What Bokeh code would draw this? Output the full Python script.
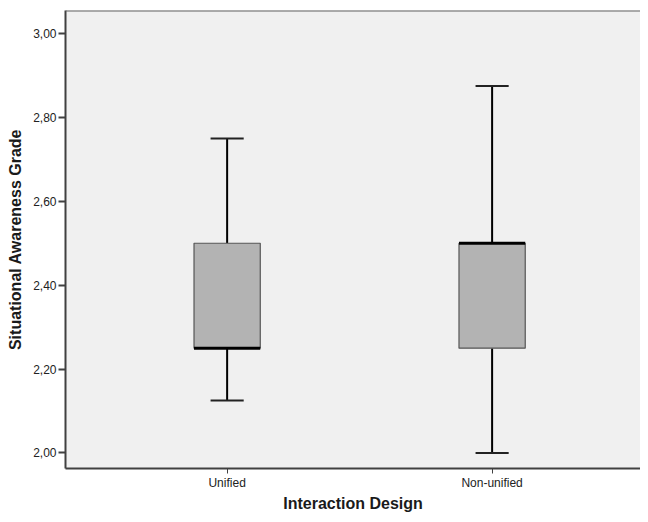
from bokeh.plotting import figure
from bokeh.models import FixedTicker, Range1d, Span
from bokeh.embed import file_html
from bokeh.resources import INLINE

categories = ["Unified", "Non-unified"]
lower = [2.125, 2.00]
q1 = [2.25, 2.25]
median = [2.25, 2.50]
q3 = [2.50, 2.50]
upper = [2.75, 2.875]
y_ticks = [2.0, 2.2, 2.4, 2.6, 2.8, 3.0]
y_tick_labels = ["2,00", "2,20", "2,40", "2,60", "2,80", "3,00"]

xs = [i + 1 for i in range(len(categories))]
box_w = 0.25
cap_w = 0.125

p = figure(width=640, height=514, output_backend="svg", toolbar_location=None,
           x_range=Range1d(0.39, 2.56), y_range=Range1d(1.963, 3.055),
           min_border_left=65, min_border_top=10, min_border_right=0, min_border_bottom=44)
p.background_fill_color = "#f0f0f0"
p.border_fill_color = "white"
p.outline_line_alpha = 0
p.xgrid.visible = False
p.ygrid.visible = False

p.add_layout(Span(location=3.055, dimension="width", line_color="#606060", line_width=2))

# whiskers
p.segment(x0=xs, y0=q3, x1=xs, y1=upper, line_color="black", line_width=2)
p.segment(x0=xs, y0=q1, x1=xs, y1=lower, line_color="black", line_width=2)
# caps
p.segment(x0=[x - cap_w / 2 for x in xs], y0=upper, x1=[x + cap_w / 2 for x in xs], y1=upper,
          line_color="#222222", line_width=2)
p.segment(x0=[x - cap_w / 2 for x in xs], y0=lower, x1=[x + cap_w / 2 for x in xs], y1=lower,
          line_color="#222222", line_width=2)
# boxes
p.vbar(x=xs, width=box_w, bottom=q1, top=q3, fill_color="#b3b3b3",
       line_color="#555555", line_width=1.2)
# medians
p.segment(x0=[x - box_w / 2 for x in xs], y0=median, x1=[x + box_w / 2 for x in xs], y1=median,
          line_color="black", line_width=3)

p.xaxis.ticker = FixedTicker(ticks=xs)
p.xaxis.major_label_overrides = {x: c for x, c in zip(xs, categories)}
p.yaxis.ticker = FixedTicker(ticks=y_ticks)
p.yaxis.major_label_overrides = {t: l for t, l in zip(y_ticks, y_tick_labels)}

for ax in (p.xaxis[0], p.yaxis[0]):
    ax.axis_line_color = "#404040"
    ax.axis_line_width = 2
    ax.major_tick_line_color = "#404040"
    ax.major_tick_line_width = 2
    ax.minor_tick_line_color = None
    ax.major_tick_in = 0
    ax.major_label_text_font = "Liberation Sans"
    ax.major_label_text_font_size = "12px"
    ax.major_label_text_color = "#222222"
    ax.axis_label_text_font = "Liberation Sans"
    ax.axis_label_text_font_style = "bold"
    ax.axis_label_text_font_size = "16px"
    ax.axis_label_text_color = "#1a1a1a"

p.xaxis.major_tick_out = 5
p.xaxis.major_tick_line_width = 1
p.xaxis.major_label_standoff = 2
p.yaxis.major_tick_out = 7
p.yaxis.major_label_standoff = 2
p.xaxis.axis_label = "Interaction Design"
p.xaxis.axis_label_standoff = 2
p.yaxis.axis_label = "Situational Awareness Grade"
p.yaxis.axis_label_standoff = 6

open("out.html", "w").write(file_html(p, INLINE))
